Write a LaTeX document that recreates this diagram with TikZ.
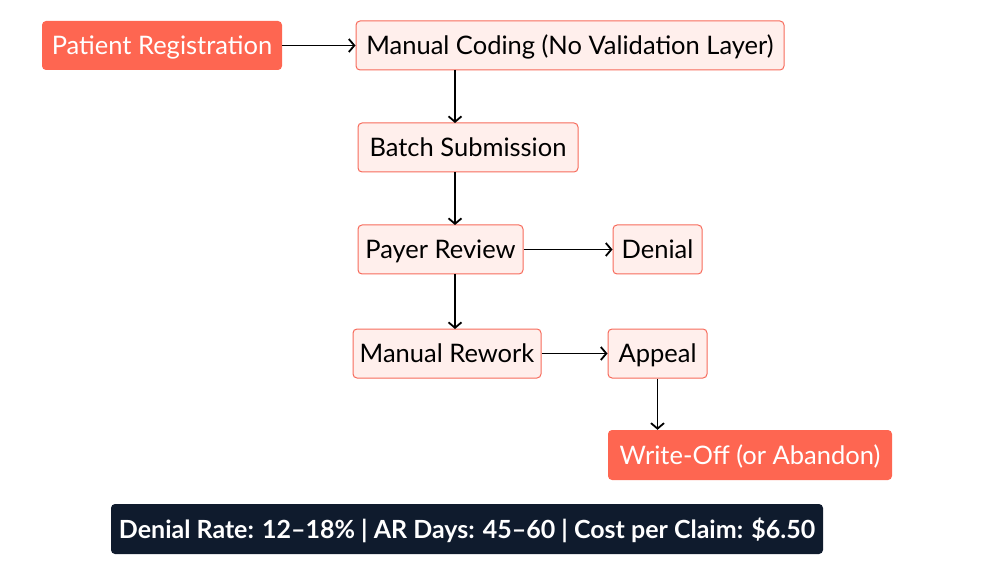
\documentclass[tikz,border=0pt]{standalone}
\usepackage{fontspec}
\setmainfont{Lato}
\usetikzlibrary{arrows.meta}
\definecolor{hot}{HTML}{FE6651}
\definecolor{soft}{HTML}{FFEFEC}
\definecolor{softline}{HTML}{F76B5C}
\definecolor{navy}{HTML}{0F1B2D}
\tikzset{
  box/.style={rectangle, rounded corners=4pt, inner sep=0pt, text height=18pt, text depth=0pt, font=\fontsize{25.5}{30}\selectfont},
  hotbox/.style={box, fill=hot, text=white},
  softbox/.style={box, fill=soft, draw=softline, line width=1pt, text=black},
  darkbox/.style={box, fill=navy, text=white, font=\fontsize{25}{30}\selectfont\bfseries},
  flow/.style={draw=black, line width=1.8pt, -{Straight Barb[length=5.5pt,width=13pt]}},
}
\begin{document}
\begin{tikzpicture}[x=1pt,y=-1pt]
\useasboundingbox (0,0) rectangle (985,569);
\node[hotbox, minimum width=240, minimum height=49] (reg) at (162,45.5) {Patient Registration};
\node[softbox, minimum width=428, minimum height=49] (code) at (570,45.5) {Manual Coding (No Validation Layer)};
\node[softbox, minimum width=220, minimum height=49] (batch) at (468,147.5) {Batch Submission};
\node[softbox, minimum width=165, minimum height=49] (payer) at (440.5,249.5) {Payer Review};
\node[softbox, minimum width=89, minimum height=49] (denial) at (657.5,249.5) {Denial};
\node[softbox, minimum width=188, minimum height=49] (rework) at (447,353.5) {Manual Rework};
\node[softbox, minimum width=99, minimum height=49] (appeal) at (657.5,353.5) {Appeal};
\node[hotbox, minimum width=284, minimum height=50] (write) at (750,455) {Write-Off (or Abandon)};
\node[darkbox, minimum width=712, minimum height=50] (stats) at (467,529) {Denial Rate: 12–18\% | AR Days: 45–60 | Cost per Claim: \$6.50};
\draw[flow] (reg.east) -- (code.west);
\draw[flow] (455,70) -- (455,123);
\draw[flow] (455,172) -- (455,225);
\draw[flow] (payer.east) -- (denial.west);
\draw[flow] (455,274) -- (455,329);
\draw[flow] (rework.east) -- (appeal.west);
\draw[flow] (appeal.south) -- (write.north -| appeal.south);
\end{tikzpicture}
\end{document}
